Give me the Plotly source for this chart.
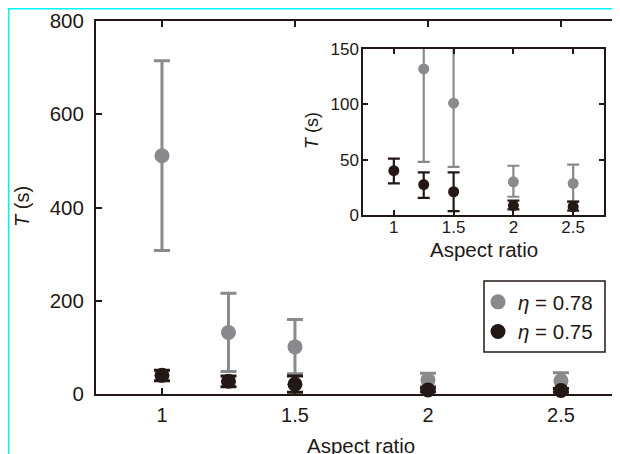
import plotly.graph_objects as go

# ---- data ----
aspect = [1, 1.25, 1.5, 2, 2.5]
t078 = [511, 132, 101, 30, 28.5]
t078_lo = [308, 48, 43.5, 16.5, 12]
t078_hi = [715, 216, 160, 44.5, 45.5]
t075 = [40, 27.5, 21, 8.5, 7.5]
t075_lo = [28.5, 15.5, 3.5, 5, 4]
t075_hi = [51, 38.5, 38.5, 13, 12]
xticks = [1, 1.5, 2, 2.5]
xticklabels = ["1", "1.5", "2", "2.5"]
main_yticks = [0, 200, 400, 600, 800]
inset_yticks = [0, 50, 100, 150]
names = ["<i>η</i> = 0.78", "<i>η</i> = 0.75"]

GRAY = "#898a8d"
BLACK = "#231815"
FONT = "Liberation Sans, Arial, sans-serif"

# page body adds an 8 px offset; positions below are in screenshot pixels
OFF = 8
W, H = 620, 454
L = 96 - OFF
T = 21 - OFF
AXB = 394 - OFF
B = H - AXB
PW = W - L
PH = AXB - T


def px_x(s):
    return (s - OFF - L) / PW


def px_y(s):
    return (AXB - (s - OFF)) / PH


def up(v, hi):
    return [h - x for x, h in zip(v, hi)]


def down(v, lo):
    return [x - l for x, l in zip(v, lo)]


fig = go.Figure()
series = [(t078, t078_lo, t078_hi, GRAY, names[0]), (t075, t075_lo, t075_hi, BLACK, names[1])]
for vals, lo, hi, col, nm in series:
    fig.add_trace(go.Scatter(
        x=aspect, y=vals, mode="markers", name=nm,
        marker=dict(size=15, color=col),
        error_y=dict(type="data", symmetric=False, array=up(vals, hi), arrayminus=down(vals, lo),
                     color=col, thickness=3, width=8),
        cliponaxis=False, xaxis="x", yaxis="y",
    ))
for vals, lo, hi, col, nm in series:
    fig.add_trace(go.Scatter(
        x=aspect, y=vals, mode="markers", name=nm, showlegend=False,
        marker=dict(size=11, color=col),
        error_y=dict(type="data", symmetric=False, array=up(vals, hi), arrayminus=down(vals, lo),
                     color=col, thickness=2.2, width=6),
        cliponaxis=True, xaxis="x2", yaxis="y2",
    ))

axis_common = dict(showgrid=False, zeroline=False, showline=True, linecolor=BLACK,
                   ticks="inside", tickcolor=BLACK, color=BLACK)

fig.update_layout(
    width=W, height=H,
    margin=dict(l=L, r=0, t=T, b=B, pad=0),
    paper_bgcolor="white", plot_bgcolor="white",
    font=dict(family=FONT, color=BLACK, size=20),
    xaxis=dict(domain=[0, 1], range=[0.752, 0.752 + PW / 266.0], tickvals=xticks, ticktext=xticklabels,
               mirror="ticks", linewidth=2, ticklen=6, tickwidth=2, tickfont=dict(size=20),
               ticklabelstandoff=2, **axis_common),
    yaxis=dict(domain=[0, 1], range=[0, 800], tickvals=main_yticks, mirror=False, linewidth=2,
               ticklen=6, tickwidth=2, tickfont=dict(size=20.5), ticklabelstandoff=6, **axis_common),
    xaxis2=dict(domain=[px_x(363), px_x(604)], anchor="y2", range=[0.742, 2.758], tickvals=xticks,
                ticktext=xticklabels, mirror="ticks", linewidth=1.5, ticklen=5, tickwidth=1.5,
                tickfont=dict(size=17), ticklabelstandoff=-4, **axis_common),
    yaxis2=dict(domain=[px_y(215), px_y(49)], anchor="x2", range=[0, 150], tickvals=inset_yticks,
                mirror="ticks", linewidth=1.5, ticklen=5, tickwidth=1.5, tickfont=dict(size=17),
                ticklabelstandoff=-1, **axis_common),
    legend=dict(x=px_x(478), y=px_y(282), xanchor="left", yanchor="top",
                borderwidth=0, bgcolor="rgba(0,0,0,0)", itemwidth=30,
                font=dict(size=20.5, color=BLACK), itemsizing="trace"),
    showlegend=True,
)

# legend frame
fig.add_shape(type="rect", xref="paper", yref="paper", x0=px_x(484), x1=px_x(605),
              y0=px_y(352), y1=px_y(281), line=dict(color=BLACK, width=1.5), layer="above")

annots = [
    dict(text="<i>T</i> (s)", x=px_x(22), y=px_y(207), textangle=-90, size=20),
    dict(text="Aspect ratio", x=px_x(361), y=px_y(445), textangle=0, size=20.5),
    dict(text="<i>T</i> (s)", x=px_x(312), y=px_y(131), textangle=-90, size=18),
    dict(text="Aspect ratio", x=px_x(484), y=px_y(249), textangle=0, size=20.5),
]
for a in annots:
    fig.add_annotation(text=a["text"], x=a["x"], y=a["y"], xref="paper", yref="paper",
                       xanchor="center", yanchor="middle", showarrow=False,
                       textangle=a["textangle"], font=dict(size=a["size"], color=BLACK, family=FONT))

# cyan frame (left and top edges of the reference crop)
CYAN = "#00f5f5"
fig.add_shape(type="line", xref="paper", yref="paper", x0=px_x(8.5), x1=px_x(8.5), y0=px_y(8.5), y1=px_y(470),
              line=dict(color=CYAN, width=2))
fig.add_shape(type="line", xref="paper", yref="paper", x0=px_x(7.5), x1=px_x(640), y0=px_y(8.5), y1=px_y(8.5),
              line=dict(color=CYAN, width=2))

fig.write_html("out.html")
